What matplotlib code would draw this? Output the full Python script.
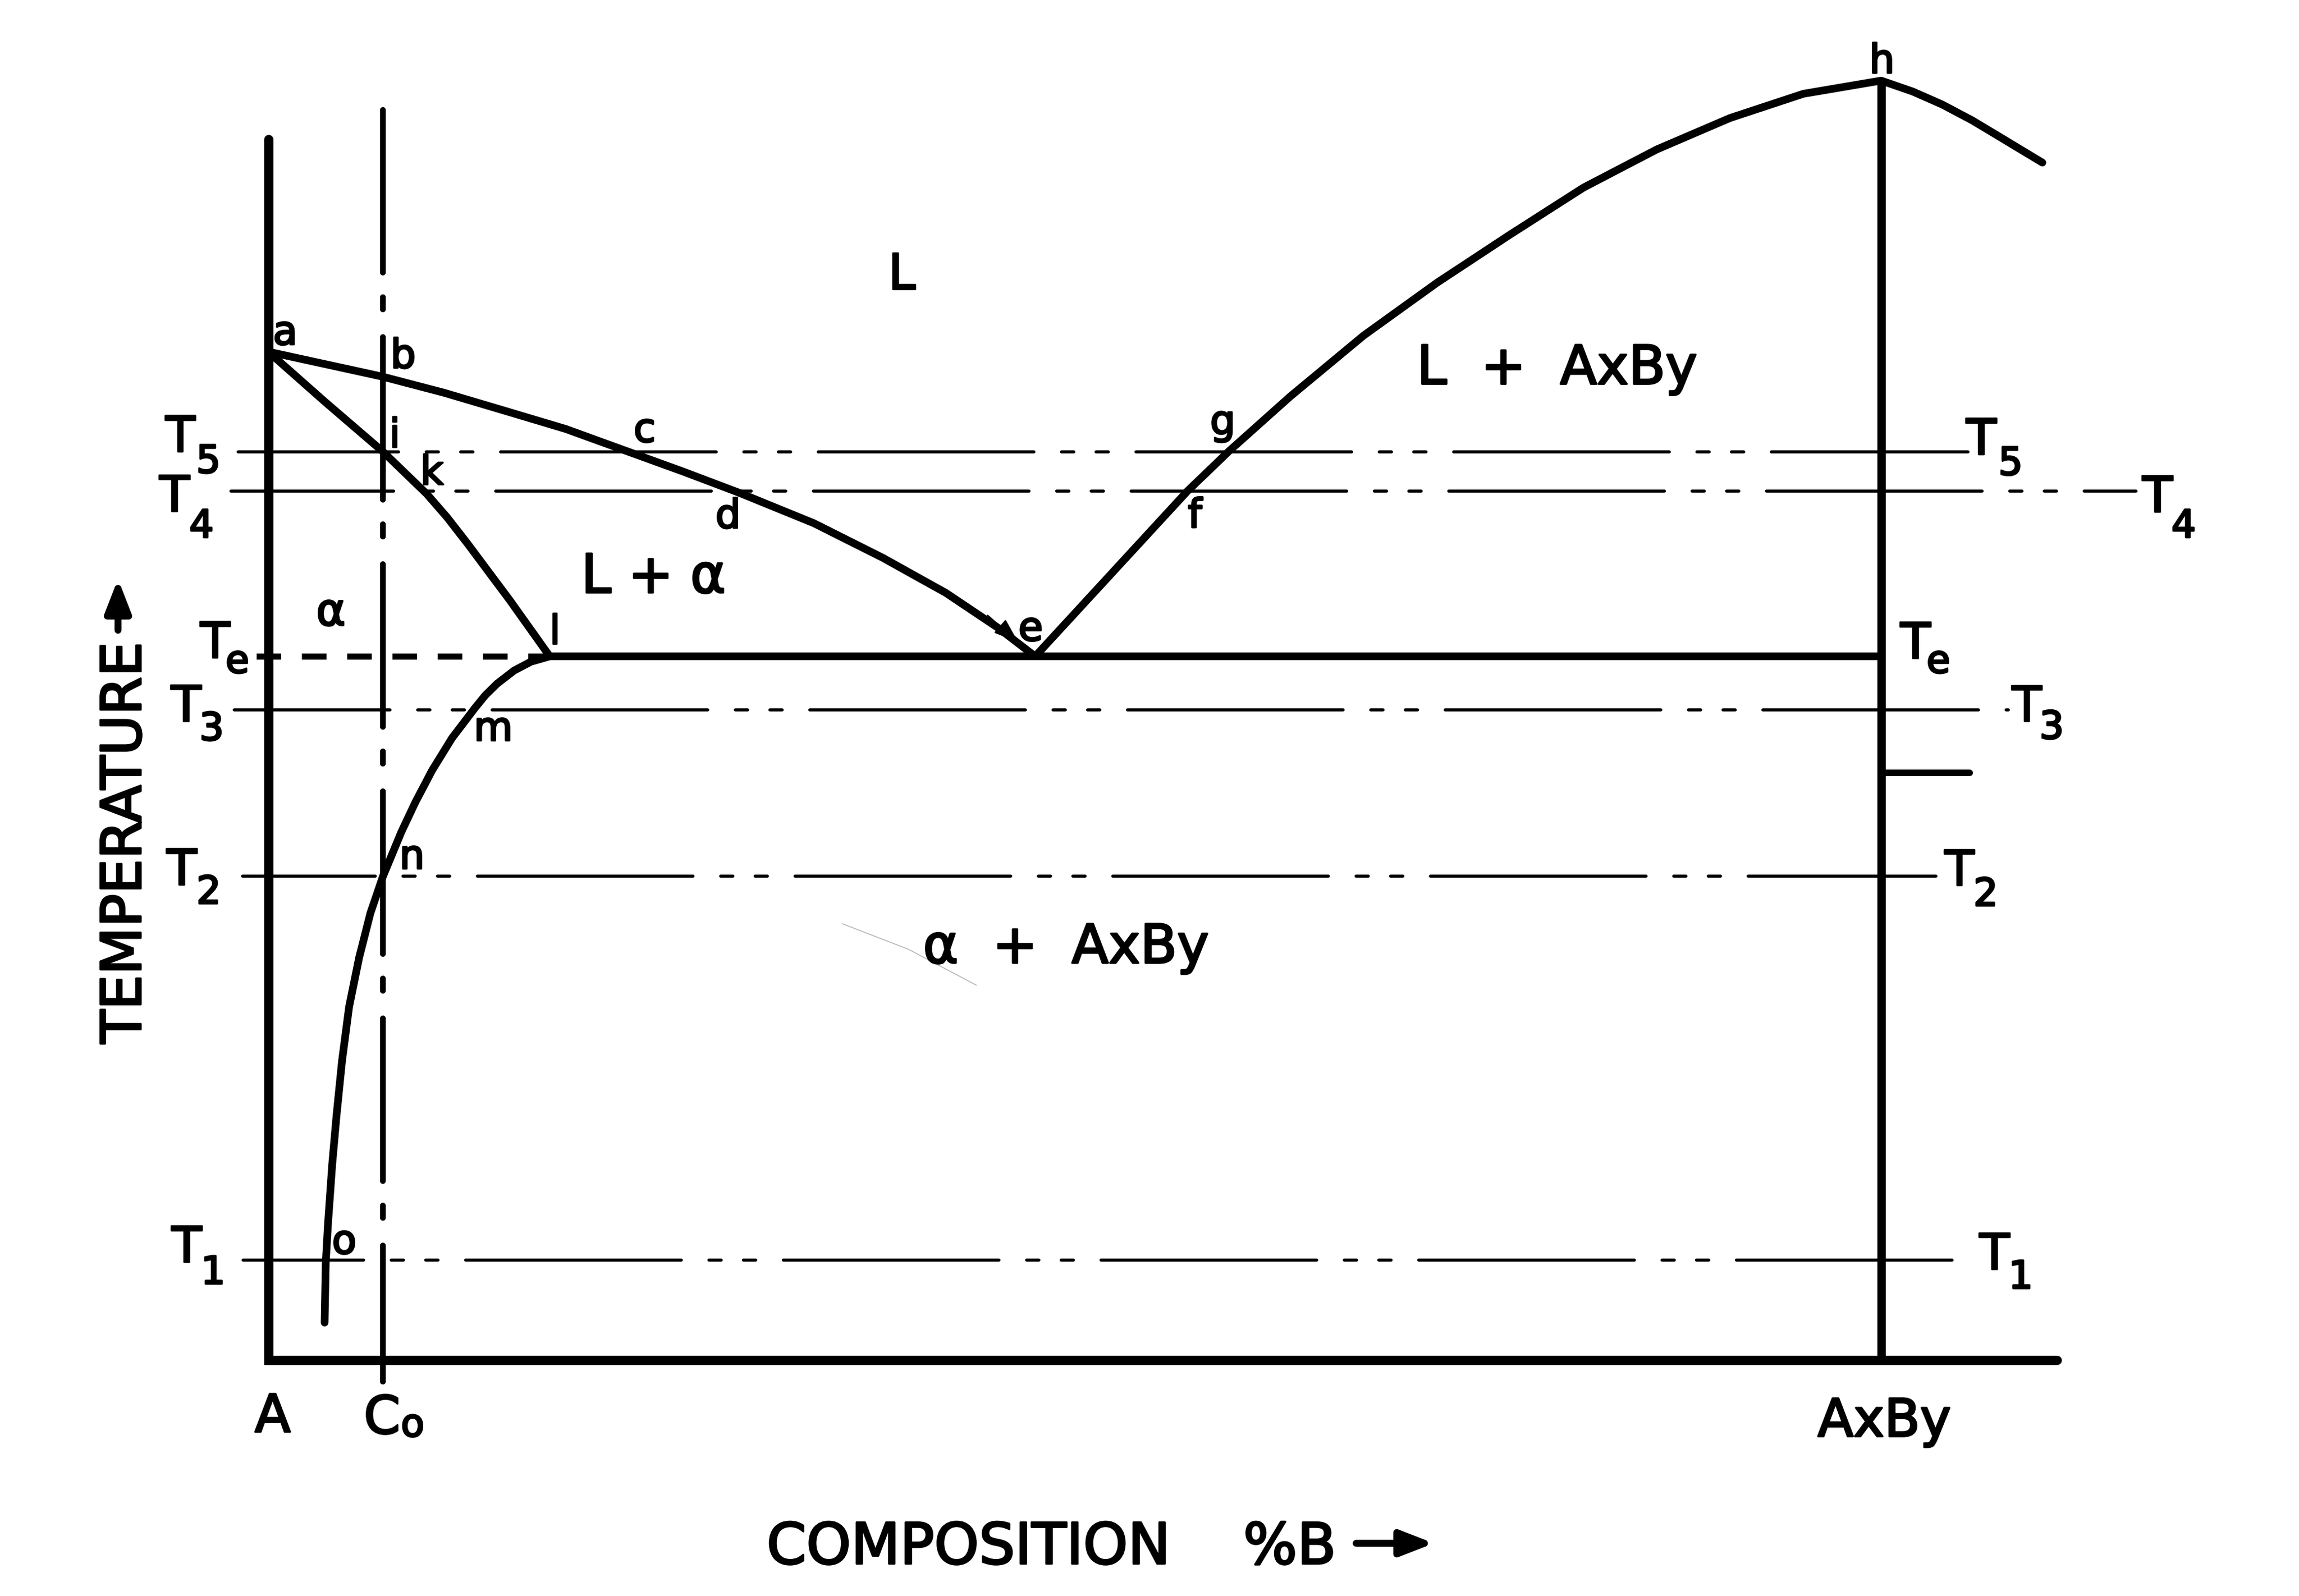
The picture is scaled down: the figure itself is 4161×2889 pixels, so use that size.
"""Schematic A - AxBy phase diagram: alpha solid solution, eutectic e, congruent compound AxBy."""
import matplotlib
matplotlib.use("Agg")
import matplotlib.pyplot as plt
from matplotlib import patheffects

plt.rcParams["font.family"] = ["DejaVu Sans"]
plt.rcParams["lines.scale_dashes"] = False

# composition: A = 0, AxBy = 100 ; temperature: frame bottom = 0, top of AxBy (h) = 100
liq_left_c = [0.0, 7.09, 10.91, 14.73, 18.45, 22.27, 25.73, 29.27, 33.82, 38.09, 42.0, 45.27, 47.55]
liq_left_t = [78.81, 76.86, 75.60, 74.17, 72.77, 71.02, 69.44, 67.75, 65.41, 62.71, 59.97, 57.21, 55.0]

solidus_c = [0.0, 3.5, 7.09, 9.82, 11.09, 12.36, 15.0, 17.45]
solidus_t = [78.81, 74.91, 71.02, 67.7, 65.86, 63.8, 59.34, 55.0]

solvus_c = [17.45, 16.28, 15.24, 14.18, 13.45, 12.79, 11.39, 10.16, 9.12, 8.25, 7.11,
            6.33, 5.63, 5.01, 4.57, 4.23, 3.96, 3.70, 3.56, 3.49]
solvus_t = [55.0, 54.58, 53.89, 52.86, 51.95, 50.93, 48.61, 46.10, 43.60, 41.28, 37.81,
            34.93, 31.45, 27.61, 23.37, 19.12, 15.27, 10.64, 7.56, 2.93]

liq_right_c = [47.55, 57.0, 59.55, 63.36, 67.91, 72.45, 77.0, 81.55, 86.09, 90.64, 95.18,
               100.0, 101.95, 103.79, 105.65, 107.5, 110.0]
liq_right_t = [55.0, 67.93, 71.02, 75.31, 80.07, 84.19, 87.97, 91.64, 94.62, 97.08, 98.97,
               100.0, 99.15, 98.13, 96.89, 95.49, 93.59]

T_e = 55.0
l_comp = 17.45
C0 = 7.09
c0_range = [97.7, -1.7]
compound = 100.0
frame_top = 95.4
frame_right = 110.9
stub_t = 45.9
stub_end = 105.5

iso_t = [71.0, 67.9, 50.8, 37.8, 7.8]          # T5, T4, T3, T2, T1
iso_start = [-1.87, -2.3, -2.1, -1.6, -1.55]
iso_end = [105.4, 115.8, 107.9, 103.4, 105.9]
iso_phase = [72, 69, 78, 108, 124]

stray_c = [35.6, 39.7, 43.9]
stray_t = [34.1, 32.1, 29.3]

point_labels = ["a", "b", "i", "k", "c", "d", "e", "f", "g", "h", "l", "m", "n", "o"]
point_pos = [(1.05, 79.38), (8.36, 77.55), (7.82, 71.36), (10.14, 68.44), (23.33, 71.77),
             (28.51, 65.04), (47.27, 56.24), (57.45, 65.08), (59.18, 72.38), (100.05, 100.6),
             (17.75, 56.0), (13.95, 48.42), (8.91, 38.41), (4.71, 8.33)]

region_labels = ["L", "L  +  AxBy", "L + α", "α", "α  +  AxBy"]
region_pos = [(39.27, 83.73), (79.9, 76.29), (23.88, 59.98), (3.88, 57.43), (49.45, 31.04)]
region_size = [64, 70, 70, 58, 70]

# T labels: (subscript, position of T, position of subscript)
t_labels = [
    ("5", (105.27, 70.81), (107.27, 69.19)),
    ("4", (116.18, 66.32), (118.00, 64.30)),
    ("e", (101.18, 54.87), (102.82, 53.72)),
    ("3", (108.09, 49.94), (109.82, 48.57)),
    ("2", (103.91, 37.11), (105.73, 35.51)),
    ("1", (106.09, 7.14), (107.90, 5.61)),
    ("5", (-6.40, 71.02), (-4.47, 69.35)),
    ("4", (-6.75, 66.38), (-4.90, 64.30)),
    ("e", (-4.24, 54.91), (-2.65, 53.72)),
    ("3", (-6.03, 49.97), (-4.27, 48.45)),
    ("2", (-6.30, 37.17), (-4.45, 35.68)),
    ("1", (-6.00, 7.67), (-4.18, 5.96)),
]

fig = plt.figure(figsize=(41.61, 28.89), dpi=100)
ax = fig.add_axes([0, 0, 1, 1])
ax.set_xlim(-16.636, 125.91)
ax.set_ylim(-18.44, 106.30)
ax.axis("off")

K = "black"
curve_lw = 10
ink = [patheffects.withStroke(linewidth=2.5, foreground=K)]

# frame (left axis + composition axis)
ax.plot([0, 0, frame_right], [frame_top, 0, 0], color=K, lw=12,
        solid_joinstyle="miter", solid_capstyle="round")
# compound line and its short tick
ax.plot([compound, compound], [0, 100.0], color=K, lw=11, solid_capstyle="butt")
ax.plot([compound, stub_end], [stub_t, stub_t], color=K, lw=8.5, solid_capstyle="round")

# isotherms (dash-dot)
for t, x0, x1, ph in zip(iso_t, iso_start, iso_end, iso_phase):
    ax.plot([x0, x1], [t, t], color=K, lw=4,
            linestyle=(ph, (281, 36, 16, 29, 16, 36)), dash_capstyle="round")

# eutectic isotherm
ax.plot([-0.73, l_comp], [T_e, T_e], color=K, lw=8, linestyle=(0, (32, 27)),
        dash_capstyle="butt")
ax.plot([l_comp, compound], [T_e, T_e], color=K, lw=curve_lw, solid_capstyle="butt")

# alloy Co
ax.plot([C0, C0], c0_range, color=K, lw=7.5, linestyle=(0, (212, 32, 16, 36)),
        dash_capstyle="round")

# phase boundaries
for xs, ys in [(liq_left_c, liq_left_t), (solidus_c, solidus_t),
               (solvus_c, solvus_t), (liq_right_c, liq_right_t)]:
    ax.plot(xs, ys, color=K, lw=curve_lw, solid_joinstyle="round", solid_capstyle="round")

# little arrow on the liquidus pointing to e
ax.annotate("", xy=(46.5, 56.1), xytext=(44.6, 58.2),
            arrowprops=dict(arrowstyle="-|>,head_length=0.7,head_width=0.25",
                            mutation_scale=40, color=K, lw=2, shrinkA=0, shrinkB=0))

# faint pencil stroke
ax.plot(stray_c, stray_t, color="#b5b5b5", lw=1.2)

for s, (x, y) in zip(point_labels, point_pos):
    ax.text(x, y, s, fontsize=52, ha="center", va="baseline", color=K, path_effects=ink)

for s, (x, y), fs in zip(region_labels, region_pos, region_size):
    ax.text(x, y, s, fontsize=fs, ha="center", va="baseline", color=K, path_effects=ink)

for sub, (tx, ty), (sx, sy) in t_labels:
    ax.text(tx, ty, "T", fontsize=64, ha="left", va="baseline", color=K, path_effects=ink)
    ax.text(sx, sy, sub, fontsize=50, ha="left", va="baseline", color=K, path_effects=ink)

# composition tick labels
ax.text(0.27, -5.61, "A", fontsize=68, ha="center", va="baseline", color=K, path_effects=ink)
ax.text(7.05, -5.73, "C", fontsize=68, ha="center", va="baseline", color=K, path_effects=ink)
ax.text(8.95, -5.96, "o", fontsize=50, ha="center", va="baseline", color=K, path_effects=ink)
ax.text(100.2, -5.96, "AxBy", fontsize=68, ha="center", va="baseline", color=K,
        path_effects=ink)

# axis titles
ax.text(30.9, -15.92, "COMPOSITION", fontsize=74, ha="left", va="baseline", color=K,
        path_effects=ink)
ax.text(60.45, -15.92, "%B", fontsize=74, ha="left", va="baseline", color=K, path_effects=ink)
ax.annotate("", xy=(72.27, -14.32), xytext=(67.45, -14.32),
            arrowprops=dict(arrowstyle="-|>,head_length=0.9,head_width=0.35",
                            mutation_scale=40, color=K, lw=9, shrinkA=0, shrinkB=0))

ax.text(-7.91, 24.74, "TEMPERATURE", fontsize=72, rotation=90,
        rotation_mode="anchor", ha="left", va="baseline", color=K, path_effects=ink)
ax.annotate("", xy=(-9.32, 61.05), xytext=(-9.32, 57.04),
            arrowprops=dict(arrowstyle="-|>,head_length=0.9,head_width=0.35",
                            mutation_scale=40, color=K, lw=9, shrinkA=0, shrinkB=0))

fig.savefig("out.png", dpi=100, facecolor="white")
plt.close(fig)
